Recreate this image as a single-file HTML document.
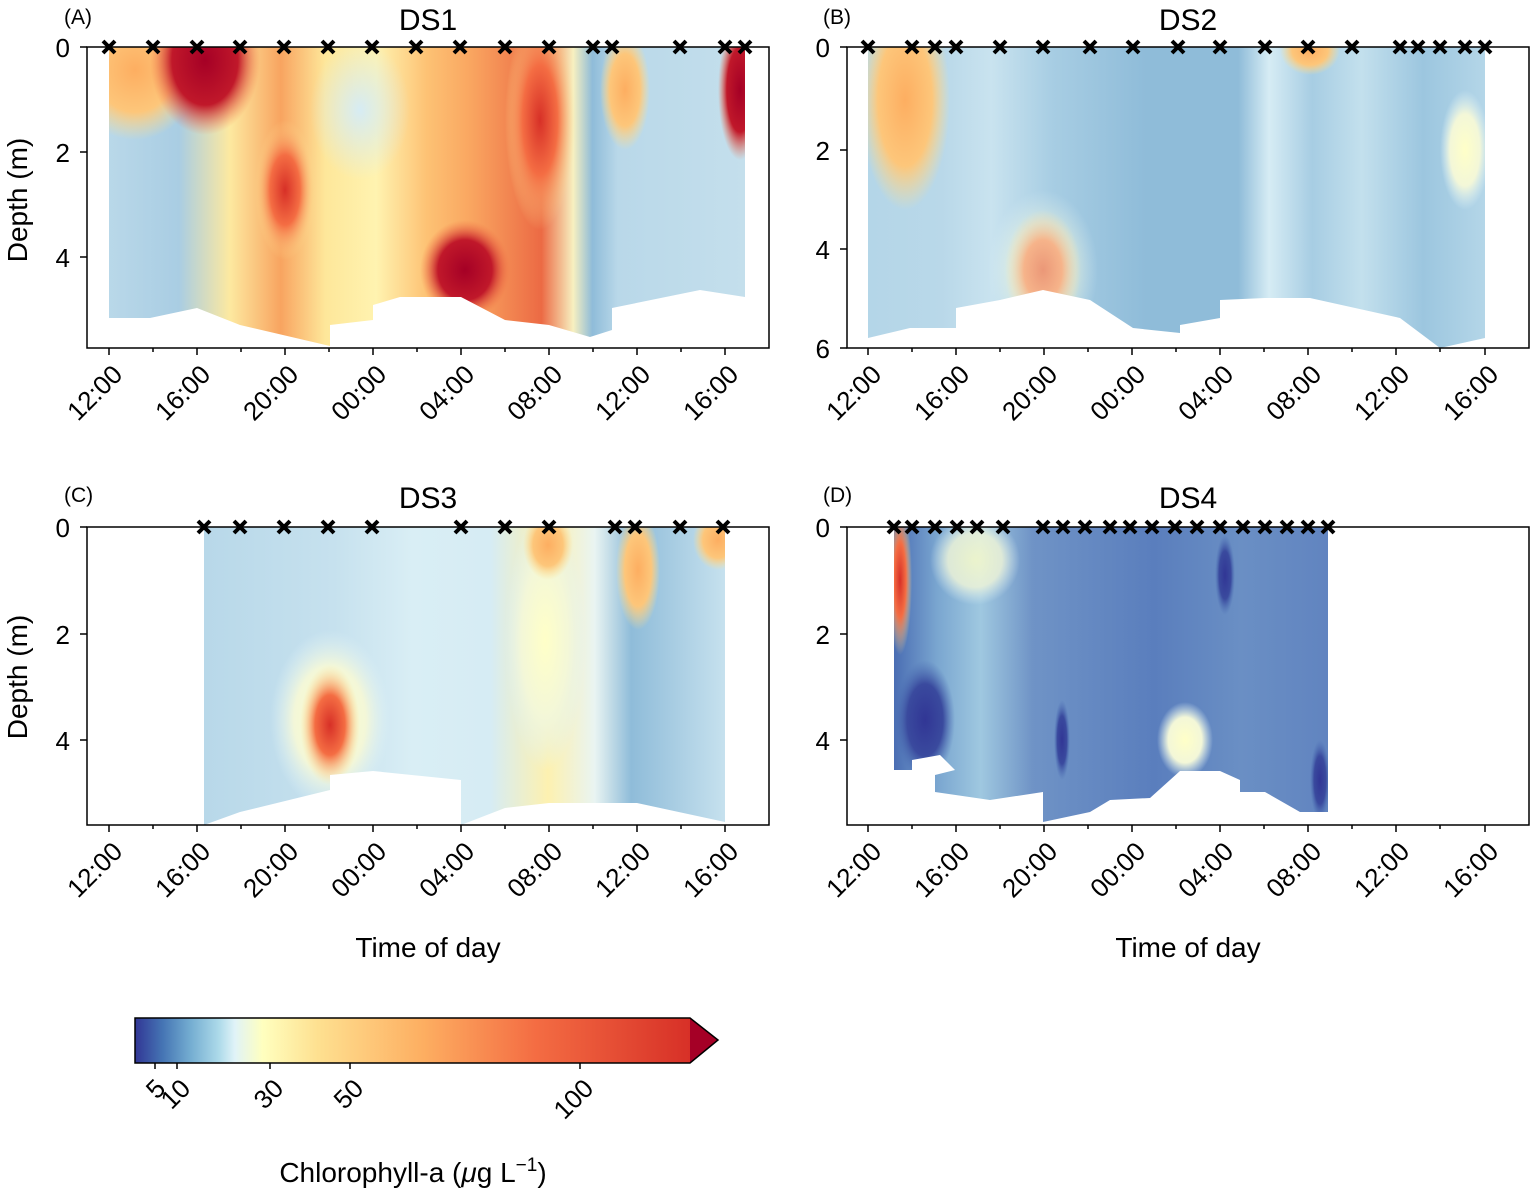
<!DOCTYPE html>
<html><head><meta charset="utf-8"><style>body{margin:0;background:#fff}svg{display:block}text{font-family:"Liberation Sans",sans-serif;fill:#000}</style></head><body>
<svg width="1535" height="1194" viewBox="0 0 1535 1194">
<defs>
<linearGradient id="gA" x1="109" x2="745" y1="0" y2="0" gradientUnits="userSpaceOnUse">
<stop offset="0" stop-color="#b9d8e9"/><stop offset="0.11" stop-color="#a9cde3"/><stop offset="0.19" stop-color="#fde9a0"/><stop offset="0.27" stop-color="#f8a460"/><stop offset="0.34" stop-color="#fee79a"/><stop offset="0.42" stop-color="#fff3b0"/><stop offset="0.5" stop-color="#fdc274"/><stop offset="0.57" stop-color="#f9a560"/><stop offset="0.68" stop-color="#ec6a44"/><stop offset="0.73" stop-color="#f7f0c0"/><stop offset="0.76" stop-color="#8fbcd9"/><stop offset="0.8" stop-color="#b9d8e9"/><stop offset="1" stop-color="#c4dfec"/></linearGradient>
<linearGradient id="gB" x1="868" x2="1485" y1="0" y2="0" gradientUnits="userSpaceOnUse">
<stop offset="0" stop-color="#b4d6e8"/><stop offset="0.12" stop-color="#b9d8e9"/><stop offset="0.2" stop-color="#c9e3ef"/><stop offset="0.3" stop-color="#a7cde3"/><stop offset="0.45" stop-color="#8fbcd9"/><stop offset="0.6" stop-color="#8fbcd9"/><stop offset="0.65" stop-color="#d6ecf4"/><stop offset="0.72" stop-color="#a7cde3"/><stop offset="0.8" stop-color="#c3e0ed"/><stop offset="0.9" stop-color="#9cc6df"/><stop offset="1" stop-color="#b4d6e8"/></linearGradient>
<linearGradient id="gC" x1="204" x2="725" y1="0" y2="0" gradientUnits="userSpaceOnUse">
<stop offset="0" stop-color="#b8d8e9"/><stop offset="0.25" stop-color="#c6e1ee"/><stop offset="0.4" stop-color="#d9eef5"/><stop offset="0.55" stop-color="#d6ecf4"/><stop offset="0.66" stop-color="#fdf1b0"/><stop offset="0.75" stop-color="#e9f4f2"/><stop offset="0.82" stop-color="#8fbcd9"/><stop offset="1" stop-color="#c6e1ee"/></linearGradient>
<linearGradient id="gD" x1="894" x2="1328" y1="0" y2="0" gradientUnits="userSpaceOnUse">
<stop offset="0" stop-color="#4a6db3"/><stop offset="0.1" stop-color="#7aa6d0"/><stop offset="0.2" stop-color="#9fc8e0"/><stop offset="0.32" stop-color="#6f93c6"/><stop offset="0.6" stop-color="#5a7ebd"/><stop offset="0.8" stop-color="#6a8fc4"/><stop offset="1" stop-color="#6184c0"/></linearGradient>
<radialGradient id="rDark"><stop offset="0" stop-color="#a50026"/><stop offset="0.6" stop-color="#c0182a"/><stop offset="1" stop-color="#f46d43" stop-opacity="0"/></radialGradient>
<radialGradient id="rRed"><stop offset="0" stop-color="#d73027"/><stop offset="0.5" stop-color="#f46d43"/><stop offset="1" stop-color="#fee090" stop-opacity="0"/></radialGradient>
<radialGradient id="rOr"><stop offset="0" stop-color="#fdae61"/><stop offset="0.6" stop-color="#fdc67a"/><stop offset="1" stop-color="#fee090" stop-opacity="0"/></radialGradient>
<radialGradient id="rYel"><stop offset="0" stop-color="#ffffc8"/><stop offset="0.6" stop-color="#f3f7d8"/><stop offset="1" stop-color="#e0f3f8" stop-opacity="0"/></radialGradient>
<radialGradient id="rNavy"><stop offset="0" stop-color="#313695"/><stop offset="0.6" stop-color="#3a4a9e"/><stop offset="1" stop-color="#4a6db3" stop-opacity="0"/></radialGradient>
<radialGradient id="rLB"><stop offset="0" stop-color="#d6ecf4"/><stop offset="1" stop-color="#d6ecf4" stop-opacity="0"/></radialGradient>
<linearGradient id="gCB" x1="135" x2="690" y1="0" y2="0" gradientUnits="userSpaceOnUse">
<stop offset="0" stop-color="#313695"/><stop offset="0.05" stop-color="#4575b4"/><stop offset="0.1" stop-color="#74add1"/><stop offset="0.15" stop-color="#abd9e9"/><stop offset="0.18" stop-color="#e0f3f8"/><stop offset="0.23" stop-color="#ffffbf"/><stop offset="0.33" stop-color="#fee090"/><stop offset="0.52" stop-color="#fdae61"/><stop offset="0.72" stop-color="#f46d43"/><stop offset="1" stop-color="#d73027"/></linearGradient>
<clipPath id="cA"><rect x="87" y="47" width="682" height="301"/></clipPath>
<clipPath id="cB"><rect x="847" y="47" width="682" height="301"/></clipPath>
<clipPath id="cC"><rect x="87" y="527" width="682" height="298"/></clipPath>
<clipPath id="cD"><rect x="847" y="527" width="682" height="298"/></clipPath>
</defs>

<g clip-path="url(#cA)">
<rect x="109" y="47" width="636" height="301" fill="url(#gA)"/>
<ellipse cx="135" cy="70" rx="65" ry="70" fill="url(#rOr)"/>
<ellipse cx="205" cy="60" rx="55" ry="75" fill="url(#rDark)"/>
<ellipse cx="285" cy="190" rx="30" ry="70" fill="url(#rRed)"/>
<ellipse cx="465" cy="270" rx="45" ry="50" fill="url(#rDark)"/>
<ellipse cx="540" cy="120" rx="35" ry="110" fill="url(#rRed)"/>
<ellipse cx="625" cy="90" rx="25" ry="60" fill="url(#rOr)"/>
<ellipse cx="740" cy="90" rx="22" ry="70" fill="url(#rDark)"/>
<ellipse cx="360" cy="110" rx="50" ry="70" fill="url(#rLB)"/>
<polygon fill="#fff" points="87,47 109,47 109,318 150,318 197,308 240,325 330,346 330,325 373,320 373,305 400,297 461,297 505,320 549,325 590,337 612,330 612,308 700,290 745,297 745,47 769,47 769,348 87,348"/>
</g>
<rect x="87" y="47" width="682" height="301" fill="none" stroke="#000" stroke-width="1.5"/>

<g clip-path="url(#cB)">
<rect x="868" y="47" width="617" height="301" fill="url(#gB)"/>
<ellipse cx="905" cy="100" rx="45" ry="110" fill="url(#rOr)"/>
<ellipse cx="1043" cy="270" rx="38" ry="60" fill="url(#rRed)"/>
<ellipse cx="1310" cy="50" rx="30" ry="25" fill="url(#rOr)"/>
<ellipse cx="1465" cy="150" rx="25" ry="60" fill="url(#rYel)"/>
<ellipse cx="1043" cy="270" rx="55" ry="80" fill="url(#rYel)" opacity="0.5"/>
<polygon fill="#fff" points="847,47 868,47 868,338 910,328 956,328 956,308 1000,300 1043,290 1090,300 1133,328 1180,333 1180,325 1220,318 1220,300 1265,298 1310,298 1400,318 1440,348 1485,338 1485,47 1529,47 1529,348 847,348"/>
</g>
<rect x="847" y="47" width="682" height="301" fill="none" stroke="#000" stroke-width="1.5"/>

<g clip-path="url(#cC)">
<rect x="204" y="527" width="521" height="298" fill="url(#gC)"/>
<ellipse cx="330" cy="720" rx="60" ry="90" fill="url(#rYel)"/>
<ellipse cx="330" cy="725" rx="30" ry="60" fill="url(#rRed)"/>
<ellipse cx="545" cy="640" rx="40" ry="130" fill="url(#rYel)"/>
<ellipse cx="548" cy="545" rx="25" ry="35" fill="url(#rOr)"/>
<ellipse cx="638" cy="570" rx="22" ry="60" fill="url(#rOr)"/>
<ellipse cx="718" cy="540" rx="25" ry="30" fill="url(#rOr)"/>
<polygon fill="#fff" points="87,527 204,527 204,825 240,812 330,790 330,775 373,771 461,780 461,825 505,808 549,803 637,803 725,822 725,527 769,527 769,825 87,825"/>
</g>
<rect x="87" y="527" width="682" height="298" fill="none" stroke="#000" stroke-width="1.5"/>

<g clip-path="url(#cD)">
<rect x="894" y="527" width="434" height="298" fill="url(#gD)"/>
<ellipse cx="975" cy="560" rx="45" ry="45" fill="url(#rYel)" opacity="0.8"/>
<ellipse cx="900" cy="580" rx="12" ry="75" fill="url(#rRed)"/>
<ellipse cx="925" cy="720" rx="30" ry="60" fill="url(#rNavy)"/>
<ellipse cx="1185" cy="740" rx="28" ry="38" fill="url(#rYel)"/>
<ellipse cx="1062" cy="740" rx="8" ry="40" fill="url(#rNavy)"/>
<ellipse cx="1225" cy="575" rx="10" ry="40" fill="url(#rNavy)"/>
<ellipse cx="1320" cy="780" rx="10" ry="40" fill="url(#rNavy)"/>
<polygon fill="#fff" points="847,527 894,527 894,770 912,770 912,760 940,755 955,770 935,775 935,792 990,800 1043,792 1043,822 1090,812 1110,800 1150,798 1180,771 1220,771 1240,780 1240,792 1265,792 1300,812 1328,812 1328,527 1529,527 1529,825 847,825"/>
</g>
<rect x="847" y="527" width="682" height="298" fill="none" stroke="#000" stroke-width="1.5"/>

<g stroke="#000" stroke-width="4" stroke-linecap="butt">
<path d="M103,41l12,12M115,41l-12,12M147,41l12,12M159,41l-12,12M191,41l12,12M203,41l-12,12M234,41l12,12M246,41l-12,12M278,41l12,12M290,41l-12,12M322,41l12,12M334,41l-12,12M366,41l12,12M378,41l-12,12M410,41l12,12M422,41l-12,12M454,41l12,12M466,41l-12,12M499,41l12,12M511,41l-12,12M543,41l12,12M555,41l-12,12M587,41l12,12M599,41l-12,12M606,41l12,12M618,41l-12,12M674,41l12,12M686,41l-12,12M719,41l12,12M731,41l-12,12M739,41l12,12M751,41l-12,12"/>
<path d="M862,41l12,12M874,41l-12,12M906,41l12,12M918,41l-12,12M929,41l12,12M941,41l-12,12M950,41l12,12M962,41l-12,12M994,41l12,12M1006,41l-12,12M1037,41l12,12M1049,41l-12,12M1084,41l12,12M1096,41l-12,12M1127,41l12,12M1139,41l-12,12M1172,41l12,12M1184,41l-12,12M1214,41l12,12M1226,41l-12,12M1259,41l12,12M1271,41l-12,12M1302,41l12,12M1314,41l-12,12M1346,41l12,12M1358,41l-12,12M1394,41l12,12M1406,41l-12,12M1412,41l12,12M1424,41l-12,12M1434,41l12,12M1446,41l-12,12M1459,41l12,12M1471,41l-12,12M1479,41l12,12M1491,41l-12,12"/>
<path d="M198,521l12,12M210,521l-12,12M234,521l12,12M246,521l-12,12M278,521l12,12M290,521l-12,12M322,521l12,12M334,521l-12,12M366,521l12,12M378,521l-12,12M455,521l12,12M467,521l-12,12M499,521l12,12M511,521l-12,12M543,521l12,12M555,521l-12,12M609,521l12,12M621,521l-12,12M629,521l12,12M641,521l-12,12M674,521l12,12M686,521l-12,12M717,521l12,12M729,521l-12,12"/>
<path d="M888,521l12,12M900,521l-12,12M906,521l12,12M918,521l-12,12M929,521l12,12M941,521l-12,12M951,521l12,12M963,521l-12,12M971,521l12,12M983,521l-12,12M997,521l12,12M1009,521l-12,12M1037,521l12,12M1049,521l-12,12M1057,521l12,12M1069,521l-12,12M1079,521l12,12M1091,521l-12,12M1104,521l12,12M1116,521l-12,12M1124,521l12,12M1136,521l-12,12M1146,521l12,12M1158,521l-12,12M1169,521l12,12M1181,521l-12,12M1191,521l12,12M1203,521l-12,12M1214,521l12,12M1226,521l-12,12M1237,521l12,12M1249,521l-12,12M1259,521l12,12M1271,521l-12,12M1281,521l12,12M1293,521l-12,12M1302,521l12,12M1314,521l-12,12M1322,521l12,12M1334,521l-12,12"/>
</g>

<g stroke="#000" stroke-width="1.5">
<path d="M109,348v7M153,348v4M197,348v7M241,348v4M285,348v7M329,348v4M373,348v7M417,348v4M461,348v7M505,348v4M549,348v7M593,348v4M637,348v7M681,348v4M725,348v7M87,47h-7M87,152h-7M87,257h-7"/>
<path d="M868,348v7M912,348v4M956,348v7M1000,348v4M1044,348v7M1088,348v4M1132,348v7M1176,348v4M1220,348v7M1264,348v4M1308,348v7M1352,348v4M1396,348v7M1440,348v4M1485,348v7M847,47h-7M847,150h-7M847,249h-7M847,348h-7"/>
<path d="M109,825v7M153,825v4M197,825v7M241,825v4M285,825v7M329,825v4M373,825v7M417,825v4M461,825v7M505,825v4M549,825v7M593,825v4M637,825v7M681,825v4M725,825v7M87,527h-7M87,634h-7M87,740h-7"/>
<path d="M868,825v7M912,825v4M956,825v7M1000,825v4M1044,825v7M1088,825v4M1132,825v7M1176,825v4M1220,825v7M1264,825v4M1308,825v7M1352,825v4M1396,825v7M1440,825v4M1485,825v7M847,527h-7M847,634h-7M847,740h-7"/>
</g>

<g font-size="26" text-anchor="end">
<text x="70" y="57">0</text><text x="70" y="162">2</text><text x="70" y="267">4</text>
<text x="830" y="57">0</text><text x="830" y="160">2</text><text x="830" y="259">4</text><text x="830" y="358">6</text>
<text x="70" y="537">0</text><text x="70" y="644">2</text><text x="70" y="750">4</text>
<text x="830" y="537">0</text><text x="830" y="644">2</text><text x="830" y="750">4</text>
</g>

<g font-size="26" text-anchor="end">
<text transform="translate(124,376) rotate(-45)">12:00</text><text transform="translate(212,376) rotate(-45)">16:00</text><text transform="translate(300,376) rotate(-45)">20:00</text><text transform="translate(388,376) rotate(-45)">00:00</text><text transform="translate(476,376) rotate(-45)">04:00</text><text transform="translate(564,376) rotate(-45)">08:00</text><text transform="translate(652,376) rotate(-45)">12:00</text><text transform="translate(740,376) rotate(-45)">16:00</text>
<text transform="translate(883,376) rotate(-45)">12:00</text><text transform="translate(971,376) rotate(-45)">16:00</text><text transform="translate(1059,376) rotate(-45)">20:00</text><text transform="translate(1147,376) rotate(-45)">00:00</text><text transform="translate(1235,376) rotate(-45)">04:00</text><text transform="translate(1323,376) rotate(-45)">08:00</text><text transform="translate(1411,376) rotate(-45)">12:00</text><text transform="translate(1500,376) rotate(-45)">16:00</text>
<text transform="translate(124,853) rotate(-45)">12:00</text><text transform="translate(212,853) rotate(-45)">16:00</text><text transform="translate(300,853) rotate(-45)">20:00</text><text transform="translate(388,853) rotate(-45)">00:00</text><text transform="translate(476,853) rotate(-45)">04:00</text><text transform="translate(564,853) rotate(-45)">08:00</text><text transform="translate(652,853) rotate(-45)">12:00</text><text transform="translate(740,853) rotate(-45)">16:00</text>
<text transform="translate(883,853) rotate(-45)">12:00</text><text transform="translate(971,853) rotate(-45)">16:00</text><text transform="translate(1059,853) rotate(-45)">20:00</text><text transform="translate(1147,853) rotate(-45)">00:00</text><text transform="translate(1235,853) rotate(-45)">04:00</text><text transform="translate(1323,853) rotate(-45)">08:00</text><text transform="translate(1411,853) rotate(-45)">12:00</text><text transform="translate(1500,853) rotate(-45)">16:00</text>
</g>

<g font-size="30" text-anchor="middle">
<text x="428" y="30">DS1</text><text x="1188" y="30">DS2</text><text x="428" y="508">DS3</text><text x="1188" y="508">DS4</text>
</g>
<g font-size="21">
<text x="64" y="24">(A)</text><text x="823" y="24">(B)</text><text x="64" y="502">(C)</text><text x="823" y="502">(D)</text>
</g>
<g font-size="28" text-anchor="middle">
<text transform="translate(27,200) rotate(-90)">Depth (m)</text>
<text transform="translate(27,677) rotate(-90)">Depth (m)</text>
<text x="428" y="957">Time of day</text><text x="1188" y="957">Time of day</text>
</g>

<rect x="135" y="1018" width="556" height="45" fill="url(#gCB)"/>
<polygon points="690,1018 718,1040 690,1063" fill="#a50026"/>
<polygon points="135,1018 690,1018 718,1040 690,1063 135,1063" fill="none" stroke="#000" stroke-width="1.5"/>
<g stroke="#000" stroke-width="1.5"><path d="M155,1063v6M177,1063v6M270,1063v6M350,1063v6M580,1063v6"/></g>
<g font-size="26" text-anchor="end">
<text transform="translate(167,1090) rotate(-45)">5</text>
<text transform="translate(192,1090) rotate(-45)">10</text>
<text transform="translate(285,1090) rotate(-45)">30</text>
<text transform="translate(365,1090) rotate(-45)">50</text>
<text transform="translate(595,1090) rotate(-45)">100</text>
</g>
<text x="413" y="1182" font-size="28" text-anchor="middle">Chlorophyll-a (<tspan font-style="italic">μ</tspan>g L<tspan dy="-11" font-size="19">−1</tspan><tspan dy="11">)</tspan></text>
</svg>
</body></html>
